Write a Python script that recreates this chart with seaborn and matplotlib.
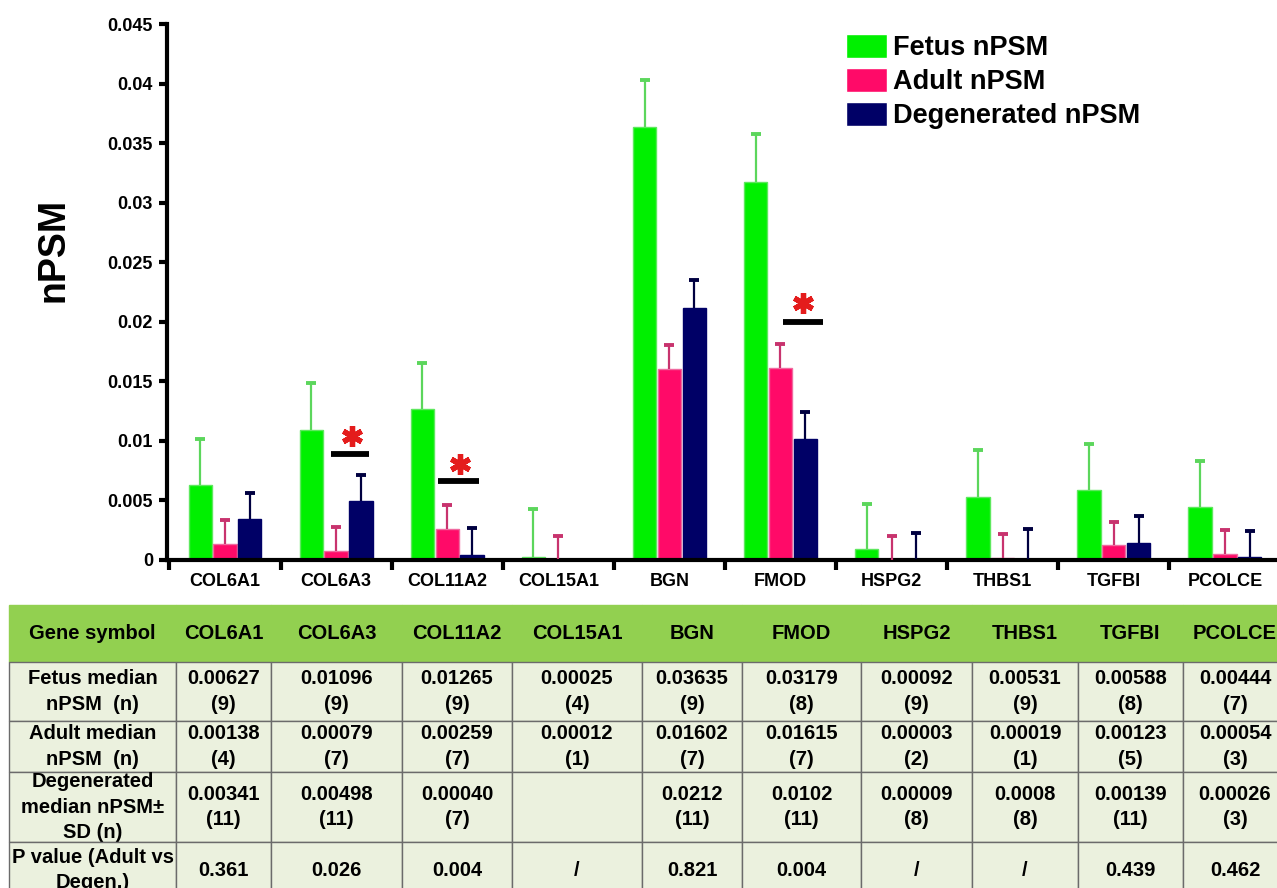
import numpy as np
import pandas as pd
import matplotlib
matplotlib.use("Agg")
import matplotlib.pyplot as plt
from matplotlib.ticker import MultipleLocator, FixedLocator, FuncFormatter
import seaborn as sns

genes = ["COL6A1", "COL6A3", "COL11A2", "COL15A1", "BGN", "FMOD",
         "HSPG2", "THBS1", "TGFBI", "PCOLCE"]
groups = ["Fetus nPSM", "Adult nPSM", "Degenerated nPSM"]

fetus = [0.00627, 0.01096, 0.01265, 0.00025, 0.03635, 0.03179, 0.00092, 0.00531, 0.00588, 0.00444]
adult = [0.00138, 0.00079, 0.00259, 0.00012, 0.01602, 0.01615, 0.00003, 0.00019, 0.00123, 0.00054]
degen = [0.00341, 0.00498, 0.00040, 0.0, 0.0212, 0.0102, 0.00009, 0.00008, 0.00139, 0.00026]

# upper error bars
fetus_sd = [0.0039, 0.0039, 0.0039, 0.0040, 0.0040, 0.0040, 0.0038, 0.0039, 0.0039, 0.0039]
adult_sd = [0.0020, 0.0020, 0.0020, 0.0019, 0.0020, 0.0020, 0.0020, 0.0020, 0.0020, 0.0020]
degen_sd = [0.0022, 0.0022, 0.0023, np.nan, 0.0023, 0.0022, 0.0022, 0.0025, 0.0023, 0.0022]

# significance marks (Adult vs Degen.)
sig_genes = ["COL6A3", "COL11A2", "FMOD"]
sig_line_y = [0.0089, 0.0066, 0.0200]
sig_star_y = [0.0104, 0.0081, 0.0216]

# table text
row_labels = ["Fetus median\nnPSM  (n)", "Adult median\nnPSM  (n)",
              "Degenerated\nmedian nPSM\u00b1\nSD (n)", "P value (Adult vs\nDegen.)"]
fetus_txt = ["0.00627", "0.01096", "0.01265", "0.00025", "0.03635", "0.03179", "0.00092", "0.00531", "0.00588", "0.00444"]
fetus_n = [9, 9, 9, 4, 9, 8, 9, 9, 8, 7]
adult_txt = ["0.00138", "0.00079", "0.00259", "0.00012", "0.01602", "0.01615", "0.00003", "0.00019", "0.00123", "0.00054"]
adult_n = [4, 7, 7, 1, 7, 7, 2, 1, 5, 3]
degen_txt = ["0.00341", "0.00498", "0.00040", "", "0.0212", "0.0102", "0.00009", "0.0008", "0.00139", "0.00026"]
degen_n = [11, 11, 7, None, 11, 11, 8, 8, 11, 3]
p_values = ["0.361", "0.026", "0.004", "/", "0.821", "0.004", "/", "/", "0.439", "0.462"]

bar_colors = ["#00f000", "#ff0a68", "#000066"]
edge_colors = ["#5ee85e", "#f06aa0", "#000066"]
err_colors = ["#5cd65c", "#c8336e", "#000040"]

sns.set_style("white")
plt.rcParams["font.family"] = ["Liberation Sans", "DejaVu Sans"]
plt.rcParams["font.weight"] = "bold"
for key in ["text.color", "axes.labelcolor", "xtick.color", "ytick.color"]:
    plt.rcParams[key] = "black"

W, H = 1277, 888
fig = plt.figure(figsize=(W / 100, H / 100), dpi=100)
ax = fig.add_axes([167 / W, 1 - 560 / H, 1110 / W, 535.7 / H])

df = pd.DataFrame({
    "gene": genes * 3,
    "group": np.repeat(groups, len(genes)),
    "value": fetus + adult + degen,
})
sns.barplot(data=df, x="gene", y="value", hue="group", hue_order=groups,
            palette=bar_colors, saturation=1, width=0.67, gap=0.06,
            errorbar=None, linewidth=1, ax=ax)

# upper-only error bars: stem + cap
for cont, ec, vals, sd, col in zip(ax.containers, edge_colors,
                                   [fetus, adult, degen],
                                   [fetus_sd, adult_sd, degen_sd], err_colors):
    xs = []
    for p in cont:
        p.set_edgecolor(ec)
        xs.append(p.get_x() + p.get_width() / 2)
    tops = np.array(vals) + np.array(sd)
    ax.vlines(xs, vals, tops, colors=col, lw=1.6, zorder=3)
    ax.plot(xs, tops, ls="none", marker="_", ms=7, mew=2.8, color=col, zorder=3)

# significance bars and stars
line_span = [(-0.05, 0.30), (-0.08, 0.29), (0.02, 0.38)]
star_dx = [0.14, 0.115, 0.205]
for g, (a, b), ly, sdx, sy in zip(sig_genes, line_span, sig_line_y, star_dx, sig_star_y):
    i = genes.index(g)
    ax.plot([i + a, i + b], [ly, ly], color="black", lw=4.2, solid_capstyle="butt")
    ax.plot(i + sdx, sy, marker=(6, 2, 0), ms=15, mew=3.8, color="#e41c1c")

ax.set_xlim(-0.522, 9.469)
ax.set_ylim(0, 0.045)
ax.yaxis.set_major_locator(MultipleLocator(0.005))
ax.yaxis.set_major_formatter(FuncFormatter(lambda v, pos: f"{v:g}"))
ax.xaxis.set_minor_locator(FixedLocator(np.arange(-0.5, 9.6, 1)))
ax.tick_params(axis="y", direction="out", length=6, width=3, labelsize=13, pad=4, left=True)
ax.tick_params(axis="x", which="major", length=0, labelsize=13, pad=9)
ax.tick_params(axis="x", which="minor", direction="out", length=7, width=3, bottom=True)
for s in ["top", "right"]:
    ax.spines[s].set_visible(False)
for s in ["left", "bottom"]:
    ax.spines[s].set_linewidth(3)
    ax.spines[s].set_color("black")
ax.set_xlabel("")
ax.set_ylabel("nPSM", fontsize=27, fontweight="bold", va="center")
ax.yaxis.set_label_coords((53 - 167) / 1110, (560 - 250) / 535.7)

handles, labels = ax.get_legend_handles_labels()
ax.legend(handles, labels, loc="upper left", bbox_to_anchor=(846 / W, 1 - 34 / H),
          bbox_transform=fig.transFigure, frameon=False, fontsize=19.5,
          handlelength=1.5, handleheight=1.0, handletextpad=0.22,
          labelspacing=0.24, borderpad=0, borderaxespad=0)

# table under the chart
def cells(txt, n):
    return [f"{t}\n({k})" if t else "" for t, k in zip(txt, n)]

table_rows = [["Gene symbol"] + genes,
              [row_labels[0]] + cells(fetus_txt, fetus_n),
              [row_labels[1]] + cells(adult_txt, adult_n),
              [row_labels[2]] + cells(degen_txt, degen_n),
              [row_labels[3]] + p_values]
col_w = [167, 95, 131, 110, 130, 100, 119, 111, 106, 105, 104]
row_h = [57, 59, 51, 70, 56]

tax = fig.add_axes([0, 0, 1, 1])
tax.axis("off")
tbl = tax.table(cellText=table_rows, colWidths=[c / sum(col_w) for c in col_w],
                cellLoc="center",
                bbox=[9 / W, 1 - (605 + sum(row_h)) / H, sum(col_w) / W, sum(row_h) / H])
tbl.auto_set_font_size(False)
tbl.set_fontsize(14.5)
for (r, c), cell in tbl.get_celld().items():
    cell.set_height(row_h[r])
    if r == 0:
        cell.set_facecolor("#92d050")
        cell.set_edgecolor("#92d050")
    else:
        cell.set_facecolor("#ebf1de")
        cell.set_edgecolor("#6b6b6b")
        cell.set_linewidth(1)
    cell.get_text().set_fontweight("bold")
    cell.get_text().set_color("black")
    cell.get_text().set_linespacing(1.45)

fig.savefig("out.png", dpi=100)
